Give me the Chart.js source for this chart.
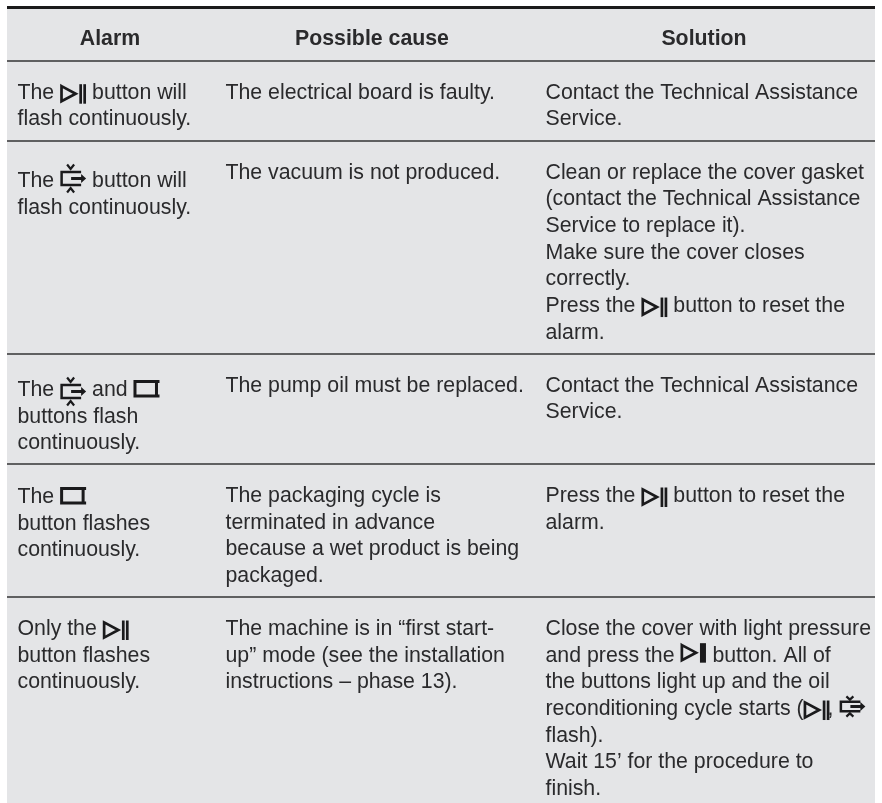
<!DOCTYPE html>
<html>
<head>
<meta charset="utf-8">
<title>Alarm table</title>
<style>
    html, body { margin: 0; padding: 0; background: #fff; }
    canvas { display: block; }
</style>
<script src="https://cdn.jsdelivr.net/npm/chart.js@4"></script>
</head>
<body>
<canvas id="alarmTable" width="882" height="803"></canvas>
<script>
'use strict';

const headers = ['Alarm', 'Possible cause', 'Solution'];

const alarmCells = [
    ['The {play} button will', 'flash continuously.'],
    ['The {vac} button will', 'flash continuously.'],
    ['The {vacLow} and {seal}', 'buttons flash', 'continuously.'],
    ['The {seal}', 'button flashes', 'continuously.'],
    ['Only the {play}', 'button flashes', 'continuously.']
];

const causeCells = [
    ['The electrical board is faulty.'],
    ['The vacuum is not produced.'],
    ['The pump oil must be replaced.'],
    ['The packaging cycle is', 'terminated in advance', 'because a wet product is being', 'packaged.'],
    ['The machine is in “first start-', 'up” mode (see the installation', 'instructions – phase 13).']
];

const solutionCells = [
    ['Contact the Technical Assistance', 'Service.'],
    ['Clean or replace the cover gasket', '(contact the Technical Assistance', 'Service to replace it).', 'Make sure the cover closes', 'correctly.', 'Press the {play} button to reset the', 'alarm.'],
    ['Contact the Technical Assistance', 'Service.'],
    ['Press the {play} button to reset the', 'alarm.'],
    ['Close the cover with light pressure', 'and press the {playSolid} button. All of', 'the buttons light up and the oil', 'reconditioning cycle starts ({playTight}, {vacSmall}', 'flash).', 'Wait 15’ for the procedure to', 'finish.']
];

// first baseline of every row, one list per column
const alarmBaselines = [98.7, 187, 396, 503, 635];
const causeBaselines = [98.7, 179, 391.7, 502, 635];
const solutionBaselines = [98.7, 178.7, 391.7, 502, 635];

const ruleRows = [61, 141, 354, 464, 597];
const topRule = 7.5;
const tableLeft = 7;
const tableRight = 875;
const pageWidth = 882;
const pageHeight = 803;

const columnX = [17.5, 225.5, 545.5];
const headerCenter = [110, 372, 704];
const headerBaseline = 45;
const linePitch = 26.67;

const bodyFont = '21.3px "Liberation Sans", Arial, sans-serif';
const headerFont = 'bold 21.3px "Liberation Sans", Arial, sans-serif';
const inkColor = '#2a2a2c';
const panelColor = '#e4e5e7';

// kind of glyph, vertical shift, advance width
const icons = {
    play: { kind: 'play', dy: 0, advance: 26 },
    playTight: { kind: 'play', dy: 0, advance: 24 },
    playSolid: { kind: 'solid', dy: -4, advance: 26 },
    vac: { kind: 'vac', dy: 0, advance: 26, squash: 1 },
    vacLow: { kind: 'vac', dy: 4, advance: 26, squash: 1 },
    vacSmall: { kind: 'vac', dy: 0, advance: 26, squash: 0.72 },
    seal: { kind: 'seal', dy: 0, advance: 26 }
};

function drawIcon(ctx, icon, x, baseline) {
    const y = baseline + icon.dy;
    ctx.save();
    ctx.strokeStyle = '#1a1a1c';
    ctx.fillStyle = '#1a1a1c';

    if (icon.kind === 'play' || icon.kind === 'solid') {
        ctx.lineWidth = 2.7;
        ctx.lineJoin = 'miter';
        ctx.beginPath();
        ctx.moveTo(x + 1.4, y - 12.6);
        ctx.lineTo(x + 15.6, y - 5);
        ctx.lineTo(x + 1.4, y + 2.6);
        ctx.closePath();
        ctx.stroke();
        if (icon.kind === 'solid') {
            ctx.fillRect(x + 19.5, y - 14.5, 6, 19.5);
        } else {
            ctx.fillRect(x + 19.2, y - 14.5, 2.7, 19.5);
            ctx.fillRect(x + 23.2, y - 14.5, 2.7, 19.5);
        }
    } else if (icon.kind === 'vac') {
        const s = icon.squash;
        const mid = y - 8.5;
        ctx.lineWidth = 2.5;
        ctx.beginPath();
        ctx.moveTo(x + 21, mid - 6.5 * s);
        ctx.lineTo(x + 1.5, mid - 6.5 * s);
        ctx.lineTo(x + 1.5, mid + 6.5 * s);
        ctx.lineTo(x + 21, mid + 6.5 * s);
        ctx.stroke();
        // arrow
        ctx.lineWidth = 3;
        ctx.beginPath();
        ctx.moveTo(x + 11, mid);
        ctx.lineTo(x + 22, mid);
        ctx.stroke();
        ctx.beginPath();
        ctx.moveTo(x + 21, mid - 4.5);
        ctx.lineTo(x + 26, mid);
        ctx.lineTo(x + 21, mid + 4.5);
        ctx.closePath();
        ctx.fill();
        // chevrons above and below
        ctx.lineWidth = 2.2;
        ctx.beginPath();
        ctx.moveTo(x + 7, mid - 14 * s);
        ctx.lineTo(x + 10.5, mid - 9.5 * s);
        ctx.lineTo(x + 14, mid - 14 * s);
        ctx.moveTo(x + 7, mid + 14 * s);
        ctx.lineTo(x + 10.5, mid + 9.5 * s);
        ctx.lineTo(x + 14, mid + 14 * s);
        ctx.stroke();
    } else {
        ctx.lineWidth = 3;
        ctx.beginPath();
        ctx.moveTo(x, y - 14.5);
        ctx.lineTo(x + 26, y - 14.5);
        ctx.moveTo(x, y);
        ctx.lineTo(x + 26, y);
        ctx.moveTo(x + 1.5, y - 14.5);
        ctx.lineTo(x + 1.5, y);
        ctx.moveTo(x + 23, y - 14.5);
        ctx.lineTo(x + 23, y);
        ctx.stroke();
    }
    ctx.restore();
}

function drawLine(ctx, text, x, baseline) {
    let cursor = x;
    text.split(/(\{\w+\})/).forEach(function(part) {
        const match = part.match(/^\{(\w+)\}$/);
        if (match) {
            const icon = icons[match[1]];
            drawIcon(ctx, icon, cursor, baseline);
            cursor += icon.advance;
        } else if (part) {
            ctx.fillText(part, cursor, baseline);
            cursor += ctx.measureText(part).width;
        }
    });
}

const panelPlugin = {
    id: 'panel',
    beforeDatasetsDraw: function(chart) {
        const { ctx, scales } = chart;
        const left = scales.x.getPixelForValue(tableLeft);
        const right = scales.x.getPixelForValue(tableRight);
        const top = scales.y.getPixelForValue(topRule);
        const bottom = scales.y.getPixelForValue(pageHeight);
        ctx.save();
        ctx.fillStyle = panelColor;
        ctx.fillRect(left, top, right - left, bottom - top);
        ctx.restore();
    }
};

const cellTextPlugin = {
    id: 'cellText',
    afterDatasetsDraw: function(chart) {
        const { ctx, scales } = chart;
        ctx.save();
        ctx.fillStyle = inkColor;
        ctx.textBaseline = 'alphabetic';

        ctx.font = headerFont;
        ctx.textAlign = 'center';
        headers.forEach(function(label, i) {
            ctx.fillText(label, scales.x.getPixelForValue(headerCenter[i]), scales.y.getPixelForValue(headerBaseline));
        });

        ctx.font = bodyFont;
        ctx.textAlign = 'left';
        [
            [alarmCells, alarmBaselines],
            [causeCells, causeBaselines],
            [solutionCells, solutionBaselines]
        ].forEach(function(column, c) {
            column[0].forEach(function(lines, r) {
                lines.forEach(function(line, l) {
                    const y = column[1][r] + l * linePitch;
                    drawLine(ctx, line, scales.x.getPixelForValue(columnX[c]), scales.y.getPixelForValue(y));
                });
            });
        });
        ctx.restore();
    }
};

const ruleDatasets = ruleRows.map(function(y) {
    return {
        data: [{ x: tableLeft, y: y }, { x: tableRight, y: y }],
        borderColor: '#333335',
        borderWidth: 1.4
    };
});

ruleDatasets.push({
    data: [{ x: tableLeft, y: topRule }, { x: tableRight, y: topRule }],
    borderColor: '#1a1a1a',
    borderWidth: 3
});

new Chart(document.getElementById('alarmTable'), {
    type: 'line',
    data: { datasets: ruleDatasets },
    plugins: [panelPlugin, cellTextPlugin],
    options: {
        responsive: false,
        animation: false,
        layout: { padding: 0 },
        elements: { point: { radius: 0 } },
        scales: {
            x: { type: 'linear', display: false, min: 0, max: pageWidth },
            y: { type: 'linear', display: false, min: 0, max: pageHeight, reverse: true }
        },
        plugins: {
            legend: { display: false },
            tooltip: { enabled: false }
        }
    }
});
</script>
</body>
</html>
